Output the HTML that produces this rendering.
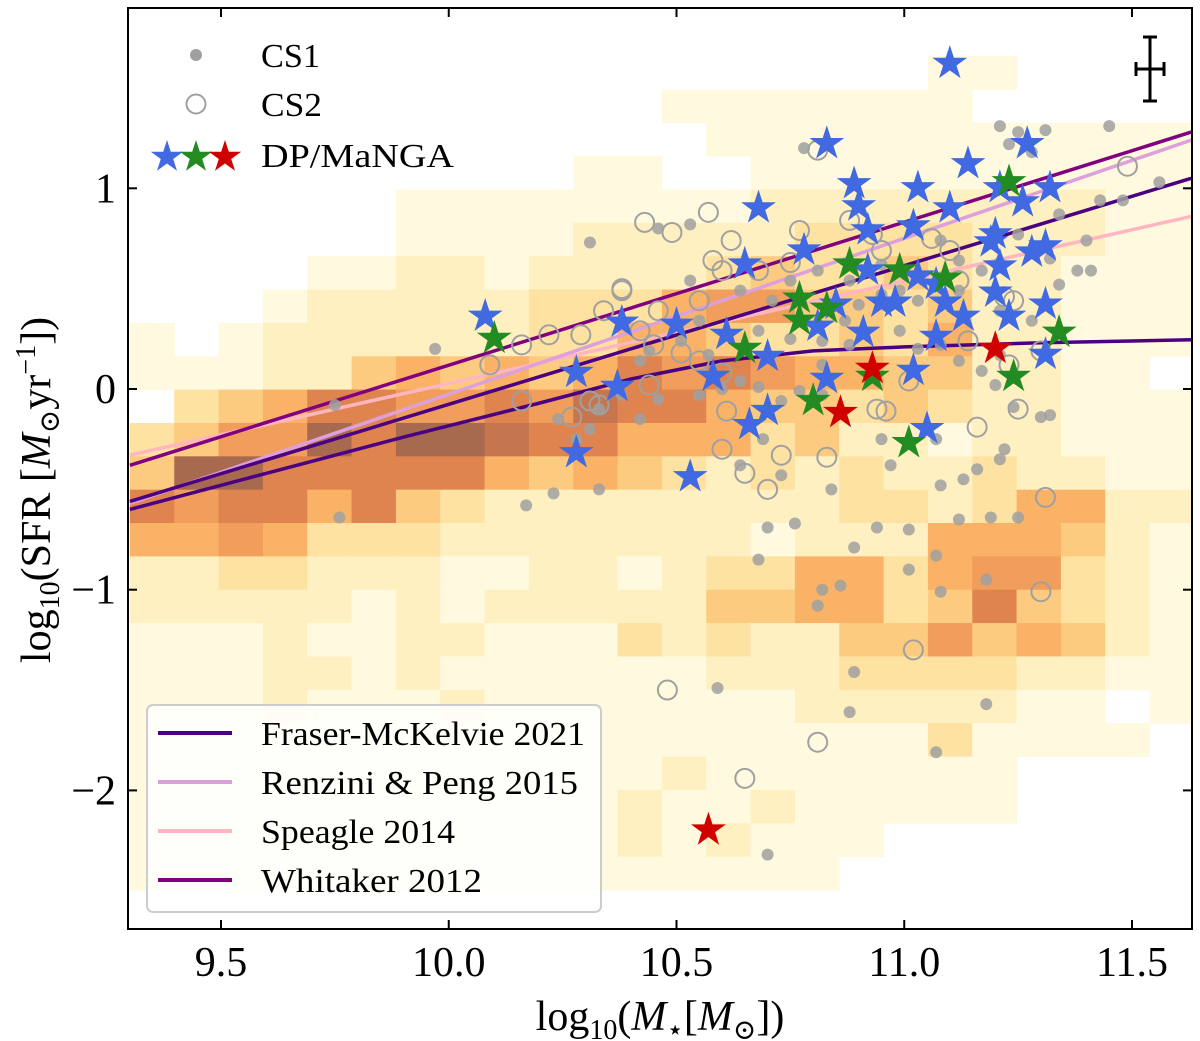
<!DOCTYPE html>
<html><head><meta charset="utf-8"><style>
html,body{margin:0;padding:0;background:#fff;}
svg{display:block;font-family:"Liberation Serif","DejaVu Serif",serif;}
</style></head><body>
<svg id="chart" width="1200" height="1041" viewBox="0 0 1200 1041" xmlns="http://www.w3.org/2000/svg">
<defs><clipPath id="clip"><rect x="128" y="8" width="1064" height="921"/></clipPath></defs>
<g id="heat" clip-path="url(#clip)"></g>
<g id="lines" clip-path="url(#clip)"></g>
<g id="pts" clip-path="url(#clip)"></g>
<g id="axes"></g>
<g id="leg"></g>
</svg>
<script>
// ---- data ----
const xTicks=[9.5,10.0,10.5,11.0,11.5];
const xTickLabels=["9.5","10.0","10.5","11.0","11.5"];
const yTicks=[1,0,-1,-2];
const yTickLabels=["1","0","\u22121","\u22122"];
const heatRows=[
[0,0,0,0,0,0,0,0,0,0,0,0,0,0,0,0,0,0,1,1,0,0,0,0],
[0,0,0,0,0,0,0,0,0,0,0,0,1,1,1,1,1,1,1,0,0,0,0,0],
[0,0,0,0,0,0,0,0,0,0,0,0,0,1,1,1,1,1,1,1,1,1,1,1],
[0,0,0,0,0,0,0,0,0,0,1,1,0,0,1,1,1,1,1,1,1,1,1,1],
[0,0,0,0,0,0,1,1,1,1,1,1,1,1,2,2,2,2,2,2,2,2,1,1],
[0,0,0,0,0,0,1,1,1,1,2,2,2,2,2,3,3,3,3,2,2,2,1,1],
[0,0,0,0,1,1,2,2,1,2,2,2,2,3,4,3,3,4,3,2,2,1,1,1],
[0,0,0,1,2,2,2,2,2,3,3,3,5,6,6,4,4,3,4,2,2,1,1,1],
[1,0,1,2,2,2,2,2,2,3,3,5,5,4,3,3,4,3,5,2,2,1,1,1],
[1,1,1,2,2,4,5,4,5,4,5,7,6,7,6,5,5,4,4,2,2,1,1,0],
[0,3,4,5,7,7,6,6,7,6,8,7,7,5,4,4,3,4,3,2,2,1,1,1],
[3,4,6,6,9,7,9,9,8,7,7,5,5,5,3,4,2,2,1,2,2,1,1,1],
[4,9,9,7,7,7,7,7,5,4,5,4,3,2,3,2,3,2,2,3,2,2,1,1],
[7,6,7,7,5,7,4,3,2,2,2,2,2,2,2,2,3,3,2,3,5,5,2,2],
[5,5,6,5,3,3,3,2,2,2,2,2,2,2,1,2,2,2,5,5,5,4,2,1],
[2,2,3,3,2,2,2,1,1,2,2,1,2,3,3,5,5,3,5,6,6,3,2,1],
[2,2,2,2,2,1,2,1,2,2,2,2,2,4,4,5,5,3,4,7,4,3,2,1],
[1,1,1,2,1,1,2,2,1,1,1,3,2,3,2,2,4,4,6,4,5,4,2,1],
[1,1,1,2,2,1,2,1,1,1,1,1,1,2,2,2,3,3,3,3,2,2,1,1],
[1,1,1,2,1,1,1,2,1,1,1,1,1,1,1,2,2,2,2,2,1,1,0,1],
[1,1,1,1,1,1,1,1,1,1,1,1,1,1,1,1,1,1,3,1,1,1,1,0],
[1,1,1,1,1,1,1,1,1,1,1,1,2,1,1,1,1,1,1,1,0,0,0,0],
[1,1,1,1,1,1,1,1,1,1,1,2,1,1,2,1,1,1,1,1,0,0,0,0],
[1,1,1,1,1,1,1,1,1,1,1,2,1,2,1,1,1,0,0,0,0,0,0,0],
[1,1,1,1,1,1,1,1,1,1,1,1,1,1,1,1,0,0,0,0,0,0,0,0]];
const heatColors=["none","#fffadf","#fff0c2","#fde2a2","#fccb80","#f9b266","#f19d5b","#df844f","#c6764f","#a86a4f"];
const fraserStraightX=[9.3,11.63];
const fraserStraightY=[-0.56,1.05];
const fraserCurveX=[9.3,9.6,9.9,10.2,10.4,10.6,10.8,11.0,11.3,11.63];
const fraserCurveY=[-0.6,-0.42,-0.24,-0.07,0.05,0.14,0.19,0.21,0.23,0.245];
const renziniX=[9.3,11.63];
const renziniY=[-0.57,1.24];
const speagleX=[9.3,11.63];
const speagleY=[-0.33,0.86];
const whitakerX=[9.3,11.63];
const whitakerY=[-0.38,1.28];
const cs1X=[10.31,10.46,10.53,11.45,11.56,10.78,11.21,11.23,11.25,11.31,11.28,11.48,11.41,11.21,10.90,10.95,10.99,11.03,11.12,11.17,10.87,10.82,10.75,10.68,10.55,10.51,10.44,10.42,10.38,10.33,10.24,10.31,10.28,10.17,10.23,10.33,10.42,10.55,10.60,10.64,10.68,10.73,10.77,10.82,10.88,10.99,11.03,11.08,11.12,11.17,11.21,11.24,11.30,11.32,11.21,11.20,10.95,10.97,11.07,10.69,10.64,10.73,10.84,10.89,10.94,11.01,11.08,11.13,11.16,11.07,11.12,11.19,11.25,11.18,11.01,11.08,10.82,10.76,10.70,10.68,10.86,10.89,10.59,10.88,11.07,11.18,10.70,9.75,9.76,9.97,10.81,11.38,11.43,11.22,11.34,11.40,11.32,11.25,11.08,10.95,10.88,10.81,10.75,10.71,11.12,11.34,11.21,11.28,10.64,10.53,10.57,10.46,10.82];
const cs1Y=[0.73,0.80,0.82,1.31,1.03,1.20,1.31,1.22,1.28,1.29,1.18,0.94,0.59,0.63,0.42,0.47,0.49,0.44,0.49,0.59,0.34,0.24,0.25,0.29,0.34,0.24,0.19,0.14,-0.03,-0.10,-0.15,-0.20,-0.25,-0.58,-0.52,-0.50,-0.15,-0.03,0.00,0.04,0.01,-0.06,-0.01,-0.03,0.22,0.29,0.20,0.22,0.14,0.09,0.17,-0.09,-0.14,-0.13,-0.35,0.02,-0.25,-0.38,-0.25,-0.25,-0.38,-0.43,-0.50,-0.79,-0.69,-0.70,-0.48,-0.45,-0.40,-0.83,-0.65,-0.64,-0.64,-0.95,-0.90,-1.01,-1.00,-0.67,-0.69,-0.85,-0.98,-1.41,-1.49,-1.61,-1.81,-1.57,-2.32,-0.08,-0.64,0.20,-1.08,0.59,0.94,-0.30,0.87,0.74,0.65,0.77,0.74,0.62,0.54,0.59,0.54,0.44,0.64,0.52,0.39,0.34,0.49,0.54,0.17,-0.05,0.12];
const cs2X=[10.81,11.49,10.43,10.49,10.57,10.62,10.58,10.60,10.55,10.46,10.38,10.34,10.22,10.16,10.09,10.29,10.38,10.42,10.45,10.51,10.55,10.60,10.44,10.33,10.27,10.16,10.68,10.75,10.77,10.88,10.93,10.95,11.06,11.10,11.12,11.24,11.30,11.14,11.01,10.94,10.73,10.70,10.65,10.60,10.61,10.96,11.16,11.25,11.31,11.30,11.02,10.65,10.81,10.48,11.22,10.83,11.23,10.31];
const cs2Y=[1.19,1.11,0.83,0.78,0.88,0.74,0.64,0.59,0.44,0.39,0.49,0.39,0.27,0.22,0.12,0.27,0.50,0.29,0.22,0.18,0.14,0.08,0.02,-0.08,-0.14,-0.06,0.59,0.63,0.79,0.84,0.77,0.69,0.75,0.69,0.54,0.44,0.19,0.24,0.04,-0.10,-0.33,-0.50,-0.42,-0.30,-0.11,-0.11,-0.19,-0.10,-0.54,-1.01,-1.30,-1.94,-1.76,-1.50,0.46,-0.34,0.12,-0.06];
const blueX=[11.10,10.83,10.89,10.68,11.03,10.90,11.21,11.10,11.27,11.32,11.26,10.65,10.78,10.92,11.02,11.19,11.21,11.03,10.95,10.92,10.85,10.81,10.91,10.98,11.07,11.09,11.20,11.31,10.08,10.38,10.50,10.61,10.70,10.70,10.66,11.05,10.53,10.28,10.37,10.28,10.58,10.83,11.02,11.31,11.28,11.13,11.23,11.07,11.14,11.31,11.20];
const blueY=[1.63,1.23,1.03,0.91,1.01,0.92,1.01,0.91,1.23,1.01,0.94,0.63,0.70,0.80,0.82,0.74,0.62,0.57,0.44,0.60,0.43,0.32,0.29,0.44,0.53,0.44,0.49,0.43,0.37,0.34,0.33,0.28,0.17,-0.10,-0.17,-0.19,-0.43,0.09,0.02,-0.31,0.07,0.06,0.10,0.18,0.69,0.37,0.37,0.27,1.13,0.72,0.78];
const greenX=[11.23,10.88,10.99,11.09,10.77,10.77,10.83,10.65,10.10,11.34,11.24,10.80,10.93,11.01];
const greenY=[1.04,0.63,0.60,0.56,0.46,0.35,0.41,0.21,0.26,0.29,0.07,-0.05,0.07,-0.26];
const redX=[11.20,10.93,10.86,10.57];
const redY=[0.21,0.11,-0.11,-2.19];

// ---- scales ----
const X=v=>221+(v-9.5)*455.5;
const Y=v=>389-v*200.7;
const NS="http://www.w3.org/2000/svg";
function mk(tag,attrs,parent){const e=document.createElementNS(NS,tag);for(const k in attrs)e.setAttribute(k,attrs[k]);parent.appendChild(e);return e;}

// heatmap
const heat=document.getElementById('heat');
const binX0=9.3,binW=0.09733,binY0=1.659,binH=0.1662;
heatRows.forEach((row,r)=>row.forEach((lv,c)=>{
  if(!lv)return;
  const x0=X(binX0+c*binW),x1=X(binX0+(c+1)*binW),y0=Y(binY0-r*binH),y1=Y(binY0-(r+1)*binH);
  const el=mk('rect',{x:x0,y:y0,width:x1-x0+0.5,height:y1-y0+0.5,fill:heatColors[lv]},heat);
  
  
}));

// lines
const lines=document.getElementById('lines');
function drawLine(xs,ys,color,name){
  const d=xs.map((v,i)=>(i?'L':'M')+X(v).toFixed(1)+' '+Y(ys[i]).toFixed(1)).join(' ');
  const el=mk('path',{d:d,fill:'none',stroke:color,'stroke-width':3.5,'stroke-linejoin':'round'},lines);
  
  
}
drawLine(speagleX,speagleY,'#ffb6c1','speagle-2014-line');
drawLine(renziniX,renziniY,'#dda0dd','renzini-peng-2015-line');
drawLine(fraserStraightX,fraserStraightY,'#4b0082','fraser-mckelvie-2021-line');
drawLine(fraserCurveX,fraserCurveY,'#4b0082','fraser-mckelvie-2021-curve');
drawLine(whitakerX,whitakerY,'#800080','whitaker-2012-line');

// points
const pts=document.getElementById('pts');
cs1X.forEach((v,i)=>{
  const el=mk('circle',{cx:X(v),cy:Y(cs1Y[i]),r:6,fill:'#a0a0a0','fill-opacity':0.85},pts);
  
  
});
cs2X.forEach((v,i)=>{
  const el=mk('circle',{cx:X(v),cy:Y(cs2Y[i]),r:9.5,fill:'none',stroke:'#a0a0a0','stroke-width':2},pts);
  
  
});
function starD(cx,cy,R){let d='';const r=R*0.382;for(let k=0;k<10;k++){const a=-Math.PI/2+k*Math.PI/5;const rr=k%2?r:R;d+=(k?'L':'M')+(cx+rr*Math.cos(a)).toFixed(1)+' '+(cy+rr*Math.sin(a)).toFixed(1);}return d+'Z';}
function stars(xs,ys,color,name){xs.forEach((v,i)=>{
  const el=mk('path',{d:starD(X(v),Y(ys[i])+1.5,17),fill:color,stroke:color,'stroke-width':0.8},pts);
  
  
});}
stars(blueX,blueY,'#4169e1','dp-manga-blue-star');
stars(greenX,greenY,'#228b22','dp-manga-green-star');
stars(redX,redY,'#d10000','dp-manga-red-star');

// axes
const axes=document.getElementById('axes');
const frame=mk('rect',{x:128,y:8,width:1064,height:921,fill:'none',stroke:'#000','stroke-width':2},axes);


xTicks.forEach((v,i)=>{
  mk('line',{x1:X(v),x2:X(v),y1:929,y2:920,stroke:'#000','stroke-width':2},axes);
  mk('line',{x1:X(v),x2:X(v),y1:8,y2:17,stroke:'#000','stroke-width':2},axes);
  const t=mk('text',{x:X(v),y:976,'font-size':42,'text-anchor':'middle'},axes);
  t.textContent=xTickLabels[i];
  
  
});
yTicks.forEach((v,i)=>{
  mk('line',{x1:128,x2:137,y1:Y(v),y2:Y(v),stroke:'#000','stroke-width':2},axes);
  mk('line',{x1:1192,x2:1183,y1:Y(v),y2:Y(v),stroke:'#000','stroke-width':2},axes);
  const t=mk('text',{x:116,y:Y(v)+14,'font-size':42,'text-anchor':'end'},axes);
  t.textContent=yTickLabels[i];
  
  
});
</script>
<script>
(function(){
const NS="http://www.w3.org/2000/svg";
const svg=document.getElementById('chart');
const axes=document.getElementById('axes');
// x axis title
const xt=document.createElementNS(NS,'text');
xt.setAttribute('x',660);xt.setAttribute('y',1030);xt.setAttribute('font-size',42);xt.setAttribute('text-anchor','middle');
xt.innerHTML='log<tspan font-size="28" dy="9">10</tspan><tspan dy="-9">(</tspan><tspan font-style="italic">M</tspan><tspan font-size="28" dy="9">\u22c6</tspan><tspan dy="-9">[</tspan><tspan font-style="italic">M</tspan><tspan font-size="28" dy="9">\u2299</tspan><tspan dy="-9">])</tspan>';


axes.appendChild(xt);
// y axis title
const yt=document.createElementNS(NS,'text');
yt.setAttribute('transform','translate(50,490) rotate(-90)');yt.setAttribute('font-size',42);yt.setAttribute('text-anchor','middle');
yt.innerHTML='log<tspan font-size="28" dy="9">10</tspan><tspan dy="-9">(SFR [</tspan><tspan font-style="italic">M</tspan><tspan font-size="28" dy="9">\u2299</tspan><tspan dy="-9">yr</tspan><tspan font-size="28" dy="-15">\u22121</tspan><tspan dy="15">])</tspan>';


axes.appendChild(yt);
// error bar
const eb=document.createElementNS(NS,'g');


eb.innerHTML='<line x1="1150" y1="37" x2="1150" y2="101" stroke="#000" stroke-width="3"/><line x1="1143" y1="37" x2="1157" y2="37" stroke="#000" stroke-width="3"/><line x1="1143" y1="101" x2="1157" y2="101" stroke="#000" stroke-width="3"/><line x1="1136" y1="69" x2="1164" y2="69" stroke="#000" stroke-width="3"/><line x1="1136" y1="62" x2="1136" y2="76" stroke="#000" stroke-width="3"/><line x1="1164" y1="62" x2="1164" y2="76" stroke="#000" stroke-width="3"/>';
svg.appendChild(eb);
})();
</script>
<script>
(function(){
const NS="http://www.w3.org/2000/svg";
const leg=document.getElementById('leg');
function starD(cx,cy,R){let d='';const r=R*0.382;for(let k=0;k<10;k++){const a=-Math.PI/2+k*Math.PI/5;const rr=k%2?r:R;d+=(k?'L':'M')+(cx+rr*Math.cos(a)).toFixed(1)+' '+(cy+rr*Math.sin(a)).toFixed(1);}return d+'Z';}
function el(tag,attrs){const e=document.createElementNS(NS,tag);for(const k in attrs)e.setAttribute(k,attrs[k]);leg.appendChild(e);return e;}
function txt(x,y,s,len){const t=el('text',{x:x,y:y,'font-size':34,textLength:len,lengthAdjust:'spacingAndGlyphs'});t.textContent=s;return t;}
// top legend
let m=el('circle',{cx:196,cy:55,r:6,fill:'#a0a0a0'});


let t=txt(261,67,'CS1',59);


m=el('circle',{cx:196,cy:104,r:9.5,fill:'none',stroke:'#a0a0a0','stroke-width':2});


t=txt(261,116,'CS2',61);


[['#4169e1',167],['#228b22',196],['#d10000',225]].forEach(p=>{
  const s=el('path',{d:starD(p[1],157,17),fill:p[0]});
  
  
});
t=txt(261,167,'DP/MaNGA',193);


// bottom legend
const box=el('rect',{x:147,y:705,width:454,height:207,rx:6,fill:'#fff','fill-opacity':0.85,stroke:'#cccccc','stroke-width':2});


const entries=[['#4b0082','Fraser-McKelvie 2021',324,733],['#dda0dd','Renzini & Peng 2015',317,782],['#ffb6c1','Speagle 2014',194,831],['#800080','Whitaker 2012',221,880]];
entries.forEach(e=>{
  const l=el('line',{x1:158,x2:232,y1:e[3],y2:e[3],stroke:e[0],'stroke-width':4});
  
  
  const tt=txt(261,e[3]+12,e[1],e[2]);
  
  
});
})();
</script>
</body></html>
